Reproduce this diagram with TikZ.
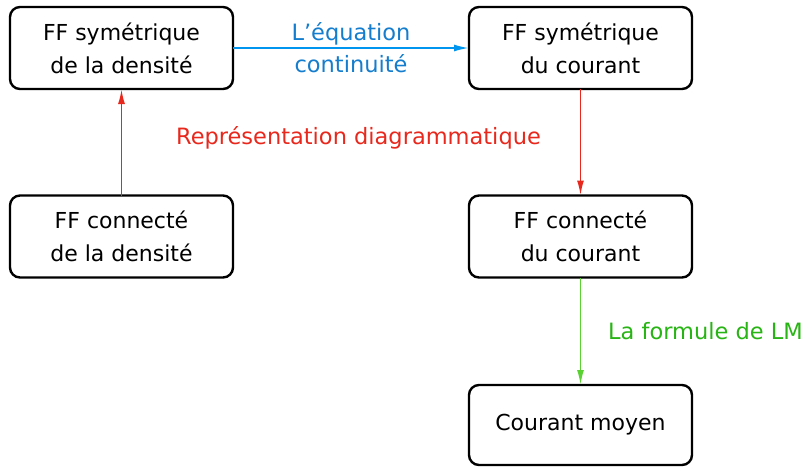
\documentclass[tikz,border=0pt]{standalone}
\usepackage{fontspec}
\setmainfont{DejaVu Sans}
\usetikzlibrary{arrows.meta}
\definecolor{cblue}{RGB}{0,150,240}
\definecolor{cbluet}{RGB}{20,125,205}
\definecolor{cred}{RGB}{232,40,28}
\definecolor{cgreen}{RGB}{90,210,50}
\definecolor{cgreent}{RGB}{40,180,20}
\begin{document}
\begin{tikzpicture}[x=1pt,y=-1pt,
  box/.style={draw=black,line width=2.4pt,rounded corners=10pt,minimum width=223pt,minimum height=82pt,align=center,inner sep=0pt,outer sep=0pt,font=\fontsize{22}{33}\selectfont},
  conn/.style={line width=1.8pt,-{Latex[length=15pt,width=7pt]}},
  lbl/.style={font=\fontsize{22.5}{32}\selectfont,align=center,inner sep=0pt}]
\useasboundingbox (0,0) rectangle (804,467);
\node[box] (a) at (121.5,48) {FF symétrique\\de la densité};
\node[box] (b) at (580.5,48) {FF symétrique\\du courant};
\node[box] (c) at (121.5,236.5) {FF connecté\\de la densité};
\node[box] (d) at (580.5,236.5) {FF connecté\\du courant};
\node[box,minimum height=80pt] (e) at (580.5,425) {Courant moyen};
\draw[conn,cblue] (a) -- (b);
\node[lbl,text=cbluet] (l1) at (351,48) {L’équation\\continuité};
\draw[conn,cred] (c) -- (a);
\draw[conn,cred] (b) -- (d);
\node[lbl,text=cred] (l2) at (358.5,138) {Représentation diagrammatique};
\draw[conn,cgreen] (d) -- (e);
\node[lbl,text=cgreent,anchor=west] (l3) at (608,331) {La formule de LM};
\end{tikzpicture}
\end{document}
